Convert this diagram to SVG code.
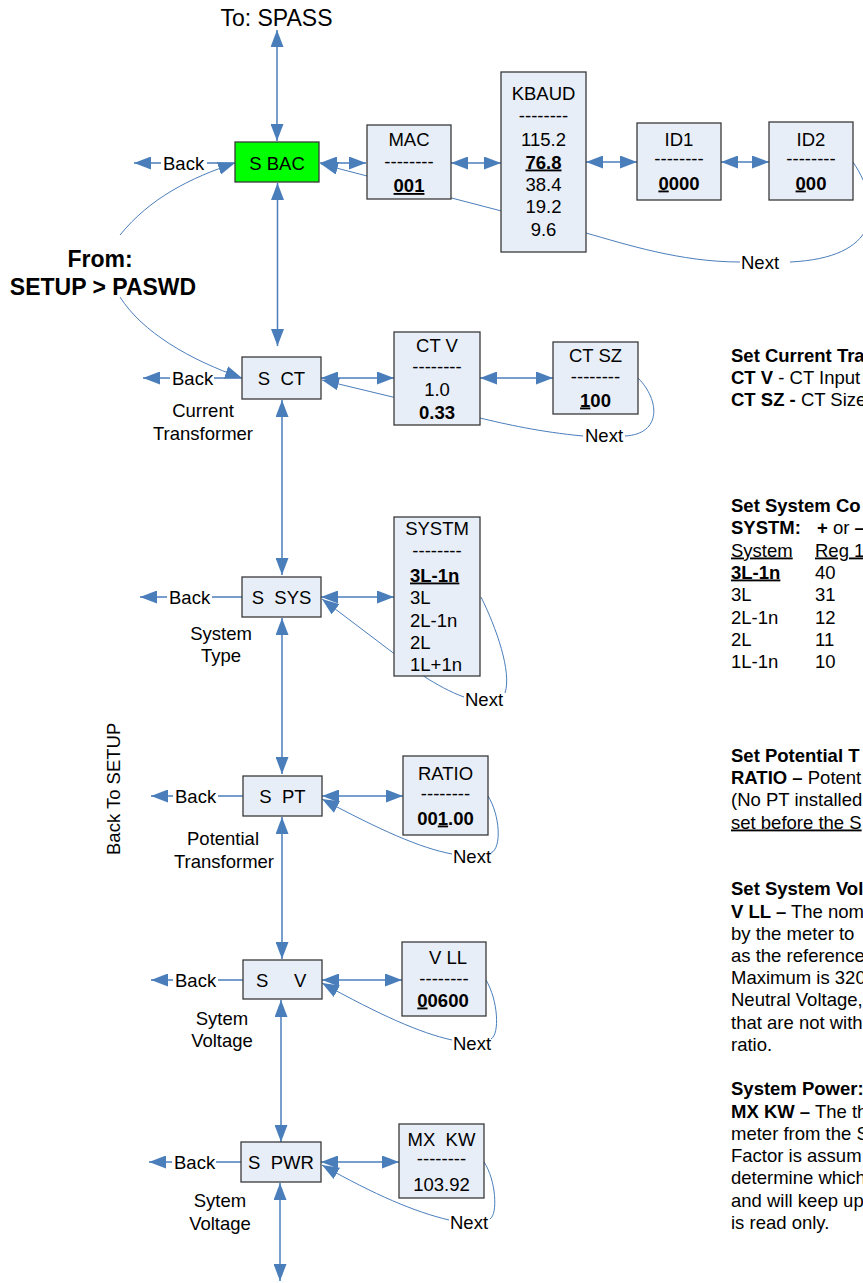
<svg xmlns="http://www.w3.org/2000/svg" width="863" height="1283" viewBox="0 0 863 1283">
<defs>
<marker id="ah" viewBox="0 0 17 13" refX="17" refY="6.5" markerWidth="17" markerHeight="13" orient="auto-start-reverse" markerUnits="userSpaceOnUse">
<path d="M0,0 L17,6.5 L0,13 z" fill="#4a7ebb"/>
</marker>
<style>
.c{stroke:#4a7ebb;fill:none;stroke-width:1.5}
.t{stroke:#4a7ebb;fill:none;stroke-width:1}
.box{fill:#e8eef7;stroke:#3a3a3a;stroke-width:1.3}
.grn{fill:#00ff00;stroke:#3a3a3a;stroke-width:1.3}
text{font-family:"Liberation Sans",Arial,sans-serif;font-size:18.5px;fill:#000}
.m{text-anchor:middle}
.b{font-weight:bold}
.u{text-decoration:underline}
.big{font-size:23px}
</style>
</defs>
<rect width="863" height="1283" fill="#fff"/>

<g id="connectors">
<path class="c" d="M277,30 V141" marker-start="url(#ah)" marker-end="url(#ah)"/>
<path class="c" d="M277.5,183 V346" marker-start="url(#ah)" marker-end="url(#ah)"/>
<path class="c" d="M282,400 V575" marker-start="url(#ah)" marker-end="url(#ah)"/>
<path class="c" d="M282,618 V774" marker-start="url(#ah)" marker-end="url(#ah)"/>
<path class="c" d="M282,817 V959" marker-start="url(#ah)" marker-end="url(#ah)"/>
<path class="c" d="M281,1000 V1142" marker-start="url(#ah)" marker-end="url(#ah)"/>
<path class="c" d="M280,1183 V1281" marker-start="url(#ah)" marker-end="url(#ah)"/>
<path class="c" d="M320,163 H366" marker-start="url(#ah)" marker-end="url(#ah)"/>
<path class="c" d="M451,163 H501" marker-start="url(#ah)" marker-end="url(#ah)"/>
<path class="c" d="M586,162 H637" marker-start="url(#ah)" marker-end="url(#ah)"/>
<path class="c" d="M721,162 H769" marker-start="url(#ah)" marker-end="url(#ah)"/>
<path class="c" d="M321,378 H394" marker-start="url(#ah)" marker-end="url(#ah)"/>
<path class="c" d="M480,378 H553" marker-start="url(#ah)" marker-end="url(#ah)"/>
<path class="c" d="M321,597 H394" marker-start="url(#ah)" marker-end="url(#ah)"/>
<path class="c" d="M322,796 H403" marker-start="url(#ah)" marker-end="url(#ah)"/>
<path class="c" d="M322,980 H402" marker-start="url(#ah)" marker-end="url(#ah)"/>
<path class="c" d="M321,1162 H399" marker-start="url(#ah)" marker-end="url(#ah)"/>
<path class="c" d="M235,163 H207 M161,163 H134" marker-end="url(#ah)"/>
<path class="c" d="M242,378 H214 M170,378 H143" marker-end="url(#ah)"/>
<path class="c" d="M242,597 H212 M167,597 H140" marker-end="url(#ah)"/>
<path class="c" d="M243,796 H218 M173,796 H151" marker-end="url(#ah)"/>
<path class="c" d="M243,980 H218 M173,980 H151" marker-end="url(#ah)"/>
<path class="c" d="M241,1162 H216 M172,1162 H149" marker-end="url(#ah)"/>
<path class="t" d="M120,235 C150,198 190,178 235,163" marker-end="url(#ah)"/>
<path class="t" d="M120,297 C142,332 190,360 242,378" marker-end="url(#ah)"/>
<path class="t" d="M853,162 C885,210 878,258 790,262"/>
<path class="t" d="M740,262 C680,262 625,244 586,233 L321,164" marker-end="url(#ah)"/>
<path class="t" d="M638,378 C660,400 662,434 625,436"/>
<path class="t" d="M583,436 C540,432 505,424 480,418 L322,380" marker-end="url(#ah)"/>
<path class="t" d="M481,597 C496,627 512,672 505,693"/>
<path class="t" d="M464,697 C450,692 436,684 425,677 L322,599" marker-end="url(#ah)"/>
<path class="t" d="M488,796 C500,815 502,848 491,853"/>
<path class="t" d="M452,854 C420,848 380,830 322,799" marker-end="url(#ah)"/>
<path class="t" d="M486,980 C498,1000 500,1034 491,1039"/>
<path class="t" d="M452,1040 C420,1033 380,1015 322,983" marker-end="url(#ah)"/>
<path class="t" d="M484,1162 C496,1180 498,1214 490,1219"/>
<path class="t" d="M449,1220 C415,1212 375,1195 322,1165" marker-end="url(#ah)"/>
<text x="163" y="169.5">Back</text>
<text x="172" y="384.5">Back</text>
<text x="169" y="603.5">Back</text>
<text x="175" y="802.5">Back</text>
<text x="175" y="986.5">Back</text>
<text x="174" y="1168.5">Back</text>
<text x="741" y="268.5">Next</text>
<text x="585" y="441.5">Next</text>
<text x="465" y="706">Next</text>
<text x="453" y="863">Next</text>
<text x="453" y="1049.5">Next</text>
<text x="450" y="1228.5">Next</text>
</g>

<g id="free-labels">
<text class="m big" x="276.5" y="26">To: SPASS</text>
<text class="m big b" x="100" y="267">From:</text>
<text class="m big b" x="103" y="295">SETUP &gt; PASWD</text>
<text transform="translate(120,855) rotate(-90)">Back To SETUP</text>
<text class="m" x="203" y="416.5">Current</text>
<text class="m" x="203" y="439.5">Transformer</text>
<text class="m" x="221" y="639.5">System</text>
<text class="m" x="221" y="661.5">Type</text>
<text class="m" x="223" y="844.5">Potential</text>
<text class="m" x="224" y="867.5">Transformer</text>
<text class="m" x="222" y="1024.5">Sytem</text>
<text class="m" x="222" y="1046.5">Voltage</text>
<text class="m" x="220" y="1206.5">Sytem</text>
<text class="m" x="220" y="1229.5">Voltage</text>
</g>

<g id="S_BAC">
<rect class="grn" x="235" y="142" width="84" height="40"/>
<text class="m" x="277" y="169.5">S BAC</text>
</g>
<g id="MAC">
<rect class="box" x="367" y="125" width="84" height="74"/>
<text class="m" x="409" y="146">MAC</text>
<text class="m" x="409" y="168">--------</text>
<text class="m b u" x="409" y="192">001</text>
</g>
<g id="KBAUD">
<rect class="box" x="501" y="72" width="85" height="180"/>
<text class="m" x="543.5" y="99.5">KBAUD</text>
<text class="m" x="543.5" y="122">--------</text>
<text class="m" x="543.5" y="145.5">115.2</text>
<text class="m b u" x="543.5" y="168.5">76.8</text>
<text class="m" x="543.5" y="190.5">38.4</text>
<text class="m" x="543.5" y="212.5">19.2</text>
<text class="m" x="543.5" y="235.5">9.6</text>
</g>
<g id="ID1">
<rect class="box" x="637" y="123" width="84" height="77"/>
<text class="m" x="679" y="145.5">ID1</text>
<text class="m" x="679" y="165">--------</text>
<text class="m b" x="679" y="189.5"><tspan class="u">0</tspan>000</text>
</g>
<g id="ID2">
<rect class="box" x="769" y="122" width="84" height="78"/>
<text class="m" x="811" y="145.5">ID2</text>
<text class="m" x="811" y="165">--------</text>
<text class="m b" x="811" y="189.5"><tspan class="u">0</tspan>00</text>
</g>

<g id="S_CT">
<rect class="box" x="242" y="357" width="79" height="42"/>
<text class="m" x="281.5" y="384.5" xml:space="preserve">S  CT</text>
</g>
<g id="CT_V">
<rect class="box" x="394" y="332" width="86" height="93"/>
<text class="m" x="437" y="351.5">CT V</text>
<text class="m" x="437" y="373">--------</text>
<text class="m" x="437" y="395.5">1.0</text>
<text class="m b" x="437" y="418.5">0.33</text>
</g>
<g id="CT_SZ">
<rect class="box" x="553" y="342" width="85" height="72"/>
<text class="m" x="595.5" y="361.5">CT SZ</text>
<text class="m" x="595.5" y="383">--------</text>
<text class="m b" x="595.5" y="406.5"><tspan class="u">1</tspan>00</text>
</g>

<g id="S_SYS">
<rect class="box" x="242" y="577" width="79" height="40"/>
<text class="m" x="281.5" y="603.5" xml:space="preserve">S  SYS</text>
</g>
<g id="SYSTM">
<rect class="box" x="394" y="517" width="86" height="159"/>
<text class="m" x="437" y="534.5">SYSTM</text>
<text class="m" x="437" y="557">--------</text>
<text class="b u" x="410" y="581.5">3L-1n</text>
<text x="410" y="603.5">3L</text>
<text x="410" y="626.5">2L-1n</text>
<text x="410" y="648.5">2L</text>
<text x="410" y="670.5">1L+1n</text>
</g>

<g id="S_PT">
<rect class="box" x="243" y="776" width="79" height="40"/>
<text class="m" x="282.5" y="802.5" xml:space="preserve">S  PT</text>
</g>
<g id="RATIO">
<rect class="box" x="403" y="756" width="85" height="79"/>
<text class="m" x="445.5" y="779.5">RATIO</text>
<text class="m" x="445.5" y="800">--------</text>
<text class="m b" x="445.5" y="824.5">00<tspan class="u">1</tspan>.00</text>
</g>

<g id="S_V">
<rect class="box" x="243" y="960" width="79" height="39"/>
<text x="256" y="986.5">S</text>
<text x="294" y="986.5">V</text>
</g>
<g id="V_LL">
<rect class="box" x="402" y="942" width="84" height="74"/>
<text class="m" x="448" y="963.5">V LL</text>
<text class="m" x="444" y="985">--------</text>
<text class="m b" x="443" y="1006.5"><tspan class="u">0</tspan>0600</text>
</g>

<g id="S_PWR">
<rect class="box" x="241" y="1142" width="80" height="40"/>
<text class="m" x="281" y="1168.5" xml:space="preserve">S  PWR</text>
</g>
<g id="MX_KW">
<rect class="box" x="399" y="1124" width="85" height="74"/>
<text class="m" x="441.5" y="1145.5" xml:space="preserve">MX  KW</text>
<text class="m" x="441.5" y="1165">--------</text>
<text class="m" x="441.5" y="1190.5">103.92</text>
</g>

<g id="notes">
<text class="b" x="731" y="361.5">Set Current Tra</text>
<text x="731" y="383.5"><tspan class="b">CT V</tspan> - CT Input</text>
<text x="731" y="405.5"><tspan class="b">CT SZ -</tspan> CT Size</text>

<text class="b" x="731" y="511.5">Set System Co</text>
<text class="b" x="731" y="533.5">SYSTM:</text>
<text x="817" y="533.5"><tspan class="b">+</tspan> or <tspan class="b">–</tspan></text>
<text class="u" x="731" y="556.5">System</text>
<text class="u" x="815" y="556.5">Reg 1</text>
<text class="b u" x="731" y="578.5">3L-1n</text>
<text x="815" y="578.5">40</text>
<text x="731" y="600.5">3L</text>
<text x="815" y="600.5">31</text>
<text x="731" y="623.5">2L-1n</text>
<text x="815" y="623.5">12</text>
<text x="731" y="645.5">2L</text>
<text x="815" y="645.5">11</text>
<text x="731" y="667.5">1L-1n</text>
<text x="815" y="667.5">10</text>

<text class="b" x="731" y="761.5">Set Potential T</text>
<text x="731" y="783.5"><tspan class="b">RATIO –</tspan> Potent</text>
<text x="731" y="805.5">(No PT installed</text>
<text class="u" x="731" y="828.5">set before the S</text>

<text class="b" x="731" y="894.5">Set System Vol</text>
<text x="731" y="917.5"><tspan class="b">V LL –</tspan> The nom</text>
<text x="731" y="939.5">by the meter to</text>
<text x="731" y="961.5">as the reference</text>
<text x="731" y="983.5">Maximum is 320</text>
<text x="731" y="1005.5">Neutral Voltage,</text>
<text x="731" y="1028.5">that are not with</text>
<text x="731" y="1050.5">ratio.</text>

<text class="b" x="731" y="1094.5">System Power:</text>
<text x="731" y="1117.5"><tspan class="b">MX KW –</tspan> The th</text>
<text x="731" y="1139.5">meter from the S</text>
<text x="731" y="1161.5">Factor is assum</text>
<text x="731" y="1183.5">determine which</text>
<text x="731" y="1206.5">and will keep up</text>
<text x="731" y="1228.5">is read only.</text>
</g>
</svg>
